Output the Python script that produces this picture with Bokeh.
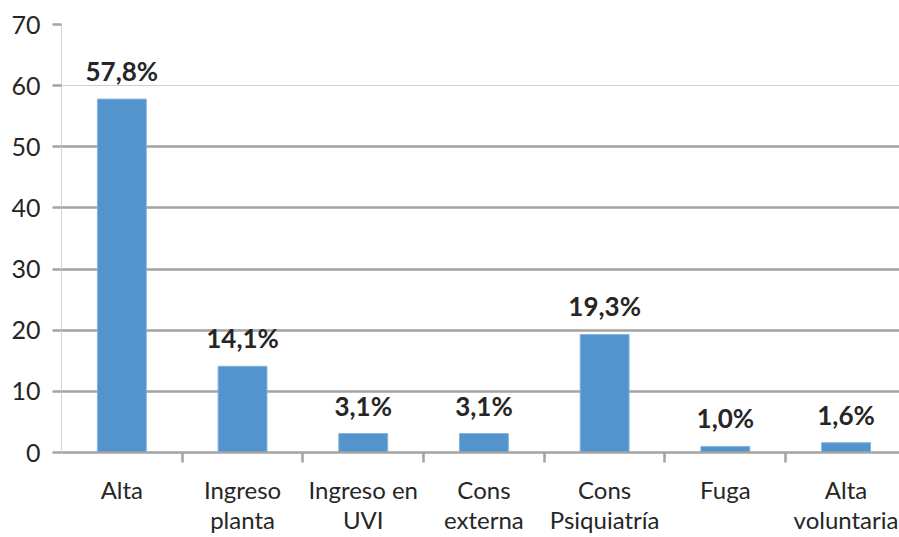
from bokeh.plotting import figure
from bokeh.models import Range1d, FixedTicker, ColumnDataSource, Grid, LabelSet
from bokeh.core.properties import value
from bokeh.embed import file_html
from bokeh.resources import INLINE

categories = ["Alta", "Ingreso\nplanta", "Ingreso en\nUVI", "Cons\nexterna",
              "Cons\nPsiquiatría", "Fuga", "Alta\nvoluntaria"]
values = [57.8, 14.1, 3.1, 3.1, 19.3, 1.0, 1.6]
value_labels = ["57,8%", "14,1%", "3,1%", "3,1%", "19,3%", "1,0%", "1,6%"]
y_ticks = [0, 10, 20, 30, 40, 50, 60, 70]

xs = list(range(len(values)))
src = ColumnDataSource(dict(x=xs, top=values, lab=value_labels))

FONT = "Lato"
GRID_DARK = "#A3A3A3"
GRID_LIGHT = "#CFCFCF"
TEXT = "#262626"

p = figure(width=899, height=537, output_backend="svg", toolbar_location=None,
           x_range=Range1d(-0.5, 6.443), y_range=Range1d(0, 70),
           min_border_left=61, min_border_right=0, min_border_top=24,
           min_border_bottom=85)
p.outline_line_color = None
p.background_fill_color = "white"
p.border_fill_color = "white"

p.vbar(x="x", top="top", width=0.405, source=src,
       fill_color="#5394CD", line_color="#86B3DE", line_width=1)

p.add_layout(LabelSet(x="x", y="top", text="lab", source=src, y_offset=18,
                      text_align="center", text_baseline="alphabetic",
                      text_font=value(FONT), text_font_style="bold",
                      text_font_size="26px", text_color=TEXT))

# grid
p.xgrid.grid_line_color = None
p.ygrid.ticker = FixedTicker(ticks=[t for t in y_ticks if t <= 50])
p.ygrid.grid_line_color = GRID_DARK
p.ygrid.grid_line_width = 2.5
p.add_layout(Grid(dimension=1, ticker=FixedTicker(ticks=[t for t in y_ticks if t > 50]),
                  grid_line_color=GRID_LIGHT, grid_line_width=1.2))

# y axis
ya = p.yaxis[0]
ya.ticker = FixedTicker(ticks=y_ticks)
ya.axis_line_color = "#D4D4D4"
ya.axis_line_width = 1
ya.major_tick_line_color = GRID_DARK
ya.major_tick_line_width = 2.5
ya.major_tick_out = 9
ya.major_tick_in = 0
ya.minor_tick_line_color = None
ya.major_label_standoff = 12
ya.major_label_text_font = FONT
ya.major_label_text_font_size = "25px"
ya.major_label_text_color = TEXT

# x axis
xa = p.xaxis[0]
xa.ticker = FixedTicker(ticks=xs, minor_ticks=[i + 0.5 for i in xs[:-1]])
xa.major_label_overrides = {i: c for i, c in zip(xs, categories)}
xa.axis_line_color = GRID_DARK
xa.axis_line_width = 2.5
xa.major_tick_line_color = None
xa.major_tick_out = 0
xa.major_tick_in = 0
xa.minor_tick_line_color = GRID_DARK
xa.minor_tick_line_width = 2.5
xa.minor_tick_out = 10
xa.minor_tick_in = 0
xa.major_label_standoff = 12
xa.major_label_text_font = FONT
xa.major_label_text_font_size = "24px"
xa.major_label_text_color = TEXT
xa.major_label_text_line_height = 1.05

open("out.html", "w").write(file_html(p, INLINE))
